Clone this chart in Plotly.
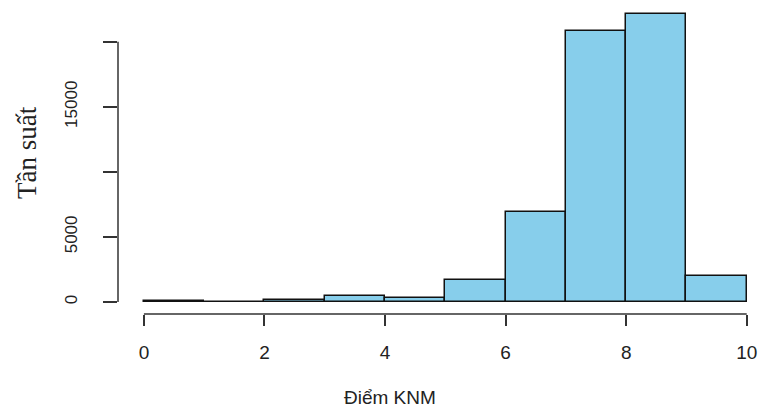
import plotly.graph_objects as go

# Histogram data
bin_left = [0, 1, 2, 3, 4, 5, 6, 7, 8, 9]
counts = [80, 15, 180, 490, 330, 1680, 6900, 20800, 22100, 2000]
x_ticks = [0, 2, 4, 6, 8, 10]
y_ticks = [0, 5000, 10000, 15000, 20000]
y_tick_text = ["0", "5000", "", "15000", ""]

centers = [b + 0.5 for b in bin_left]

fig = go.Figure()
fig.add_trace(go.Bar(
    x=centers, y=counts, width=1,
    marker=dict(color="#87CEEB", line=dict(color="#111", width=1.5)),
    showlegend=False, hoverinfo="x+y",
))

tick_font = dict(family="Liberation Sans, Arial, sans-serif", size=19, color="#222")

fig.update_layout(
    width=763, height=410,
    margin=dict(l=118, r=0, t=3, b=96),
    paper_bgcolor="white", plot_bgcolor="white",
    bargap=0,
    xaxis=dict(range=[-0.43, 10.27], showgrid=False, zeroline=False, showline=False,
               tickvals=x_ticks, ticks="outside", ticklen=11, tickwidth=1.5,
               tickcolor="#333", tickfont=tick_font, ticklabelstandoff=10),
    yaxis=dict(range=[-923, 22977], showgrid=False, zeroline=False, showline=False,
               tickvals=y_ticks, ticktext=y_tick_text, tickangle=-90,
               ticks="outside", ticklen=14, tickwidth=1.5, tickcolor="#333",
               tickfont=dict(family="Liberation Sans, Arial, sans-serif", size=17, color="#222"),
               ticklabelstandoff=19),
    shapes=[
        dict(type="line", xref="x", yref="paper", x0=0, x1=10, y0=0, y1=0,
             line=dict(color="#333", width=1.5)),
        dict(type="line", xref="paper", yref="y", x0=0, x1=0, y0=0, y1=20000,
             line=dict(color="#333", width=1.5)),
    ],
    annotations=[
        dict(text="Điểm KNM", xref="paper", yref="paper", x=0.4217, y=-0.27,
             xanchor="center", yanchor="middle", showarrow=False,
             font=dict(family="Liberation Sans, Arial, sans-serif", size=19, color="#222")),
        dict(text="Tần suất", xref="paper", yref="paper", x=-0.141, y=0.518,
             xanchor="center", yanchor="middle", showarrow=False, textangle=-90,
             font=dict(family="Liberation Serif, Times New Roman, serif", size=27, color="#222")),
    ],
)

fig.write_html("out.html", config={"displayModeBar": False},
               post_script="document.body.style.margin='0';document.body.style.overflow='hidden';")
